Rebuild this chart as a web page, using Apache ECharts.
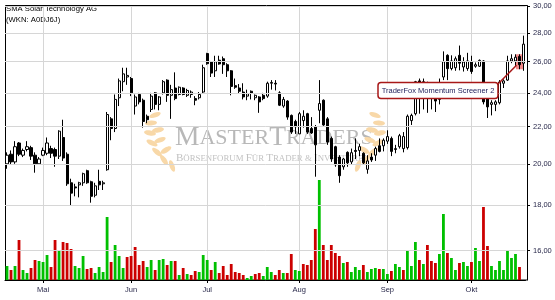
<!DOCTYPE html>
<html><head><meta charset="utf-8">
<script src="https://cdn.jsdelivr.net/npm/echarts@6/dist/echarts.min.js"></script>
<style>html,body{margin:0;padding:0;background:#fff}#c{width:555px;height:300px}</style>
</head><body><div id="c"></div>
<script>
// trading days 2019 (Apr 16 - Oct 18), in calendar order
const tradingDays = [
  ['04', [16,17,18,23,24,25,26,29,30]],
  ['05', [2,3,6,7,8,9,10,13,14,15,16,17,20,21,22,23,24,27,28,29,30,31]],
  ['06', [3,4,5,6,7,11,12,13,14,17,18,19,20,21,24,25,26,27,28]],
  ['07', [1,2,3,4,5,8,9,10,11,12,15,16,17,18,19,22,23,24,25,26,29,30,31]],
  ['08', [1,2,5,6,7,8,9,12,13,14,15,16,19,20,21,22,23,26,27,28,29,30]],
  ['09', [2,3,4,5,6,9,10,11,12,13,16,17,18,19,20,23,24,25,26,27,30]],
  ['10', [1,2,3,4,7,8,9,10,11,14,15,16,17,18]]
];
const monthNames = {'05':'Mai','06':'Jun','07':'Jul','08':'Aug','09':'Sep','10':'Okt'};
const yTicks = [16,18,20,22,24,26,28,30];

const opens = [
20.0,20.5,20.1,21.1,20.45,20.75,20.85,20.45,20.0,20.45,
20.55,20.8,20.75,20.4,21.4,20.5,19.05,18.85,18.95,19.05,
19.65,19.1,18.45,19.12,19.0,19.7,22.45,21.9,23.7,24.7,
25.0,24.9,23.2,23.9,23.55,22.6,23.0,24.0,23.3,24.0,
24.8,23.85,24.3,23.9,24.3,23.85,23.9,23.65,23.7,24.05,
26.55,26.0,25.4,26.1,26.2,25.8,25.4,24.45,24.3,24.05,
23.8,24.1,23.7,23.75,23.85,23.8,24.6,24.6,24.0,23.2,
23.5,22.65,22.3,21.6,22.35,22.75,21.9,22.0,22.95,23.55,
22.45,21.35,20.9,20.35,19.85,20.6,20.1,20.7,20.7,20.55,
19.72,20.35,20.45,20.95,20.95,21.2,21.35,20.75,20.9,20.8,
20.85,22.35,22.75,24.75,24.5,24.6,23.9,23.8,23.6,25.0,
26.43,25.55,25.6,26.43,25.65,25.55,25.98,25.7,25.7,26.05,
23.75,23.3,23.3,23.4,24.6,24.8,26.05,26.05,26.35,25.9];
const closes = [
20.45,20.1,20.9,20.5,20.7,20.9,20.4,20.0,20.25,20.7,
21.1,20.55,20.4,21.75,20.3,19.0,18.55,18.8,19.05,19.5,
19.05,18.4,18.9,18.95,19.05,22.7,21.9,23.6,24.75,25.2,
25.1,24.0,23.75,23.45,22.3,22.4,23.8,23.3,23.75,24.7,
23.85,24.2,23.65,24.35,23.9,24.15,24.05,23.55,23.9,25.6,
25.87,25.25,26.0,25.85,25.8,25.4,24.4,24.35,24.1,23.75,
23.95,23.98,23.85,23.45,23.65,24.6,24.65,24.55,23.25,23.6,
22.55,21.7,22.0,22.75,22.6,21.7,21.65,21.0,23.35,22.1,
21.15,20.25,19.95,19.4,20.25,20.05,20.58,20.65,20.9,20.05,
20.15,20.2,20.8,20.65,21.25,21.45,20.65,20.8,21.5,21.45,
22.6,22.65,24.7,24.6,24.7,24.0,23.7,23.5,24.4,26.0,
25.54,26.05,26.2,25.9,25.98,26.05,25.35,25.8,26.09,23.45,
23.15,23.4,23.45,24.68,24.75,26.05,26.2,26.3,25.8,27.2];
const lows = [
19.75,19.95,20.0,20.4,20.35,20.65,20.2,19.55,19.95,20.4,
20.45,20.3,19.85,20.25,20.15,18.9,17.95,18.4,18.35,18.9,
19.0,18.1,18.35,18.7,18.7,19.65,21.25,21.7,23.2,24.1,
24.5,23.8,22.7,23.3,21.95,22.2,22.85,23.0,22.95,23.9,
23.45,22.45,23.55,23.85,23.85,23.75,23.7,23.25,23.6,23.95,
25.8,25.0,25.0,25.8,25.2,25.0,23.85,24.25,23.95,23.6,
23.55,23.6,23.55,22.8,23.55,23.7,24.2,24.15,23.2,23.1,
22.4,21.6,21.6,21.6,21.95,21.6,21.6,19.35,22.2,22.05,
21.0,20.1,19.85,19.05,19.7,19.85,19.95,20.25,20.4,19.95,
19.5,20.1,20.15,20.6,20.65,21.05,20.4,20.55,20.8,20.6,
20.75,22.1,22.65,22.75,23.0,22.8,23.0,22.85,23.3,24.8,
24.8,25.43,25.4,25.43,25.35,25.4,25.2,25.6,25.65,23.3,
22.5,22.65,22.9,23.3,24.3,24.75,25.9,25.7,25.5,25.4];
const highs = [
20.6,20.7,21.2,21.15,20.8,21.2,20.95,20.6,20.35,20.85,
21.4,20.95,20.85,21.8,22.4,20.6,19.25,19.0,19.1,19.55,
19.7,19.15,19.05,19.7,19.15,22.85,22.55,23.9,24.9,25.6,
25.6,25.0,23.9,24.0,23.65,22.7,24.0,24.05,23.8,24.8,
24.85,24.5,25.3,24.4,24.35,24.25,24.15,23.8,24.05,25.8,
26.6,26.05,26.4,26.4,26.35,25.9,25.45,24.9,24.55,24.6,
24.2,24.15,23.9,23.8,24.0,24.7,24.8,24.8,24.1,23.75,
23.55,22.7,22.4,22.85,22.95,22.8,22.55,22.1,24.8,23.6,
22.55,21.45,20.95,20.45,20.3,20.65,20.8,21.35,21.05,20.6,
20.45,20.55,20.9,21.35,21.35,21.8,21.45,21.0,21.6,21.7,
22.7,22.75,24.75,24.9,24.9,24.7,24.1,24.3,24.9,26.7,
26.5,26.43,26.35,27.1,26.3,26.6,26.4,25.95,26.15,26.1,
23.85,23.55,23.55,24.8,24.85,26.4,26.5,26.5,26.5,27.8];
const volumes = [
14,10,14,40,10,7,12,20,19,18,
25,13,40,30,38,37,31,14,12,24,
11,12,7,13,8,63,18,35,24,12,
23,24,33,15,19,13,20,10,20,21,
15,19,19,5,12,6,5,9,8,25,
20,10,18,7,14,5,16,8,7,5,
2,4,6,7,4,13,8,5,10,7,
7,26,10,9,16,15,20,51,100,35,
20,35,27,24,17,18,8,13,10,15,
8,11,12,11,11,6,9,16,13,10,
30,14,38,20,16,35,19,17,26,66,
27,22,10,17,18,14,18,32,19,73,
34,14,10,19,10,29,22,26,13,null];
const highlightIndex = 128;
const annotationText = 'TraderFox Momentum Screener 2';

const dates = [];
tradingDays.forEach(([m, days]) => days.forEach(d => dates.push('2019-' + m + '-' + String(d).padStart(2,'0'))));
const monthStartIdx = [];
dates.forEach((d,i) => { if (i > 0 && d.slice(5,7) !== dates[i-1].slice(5,7)) monthStartIdx.push(i); });
const monthStartDates = new Set(monthStartIdx.map(i => dates[i]));

const FONT = "'Liberation Sans', Arial, sans-serif";
const SERIF = "'Liberation Serif', 'DejaVu Serif', serif";
const GRID = {left: 5, right: 29.5, top: 6, bottom: 20};

const chart = echarts.init(document.getElementById('c'), null, {renderer: 'canvas'});
const option = {
  animation: false,
  grid: [Object.assign({}, GRID), Object.assign({}, GRID)],
  xAxis: [{
    type: 'category', data: dates, gridIndex: 0, boundaryGap: true,
    axisLine: {show: true, lineStyle: {color: '#000', width: 1}},
    axisTick: {show: false},
    axisLabel: {show: true, interval: 0, hideOverlap: false,
      formatter: (v) => monthStartDates.has(v) ? monthNames[v.slice(5,7)] : '',
      fontSize: 7.5, fontFamily: FONT, color: '#28284a', margin: 6},
    splitLine: {show: false}
  }, {
    type: 'category', data: dates, gridIndex: 1, boundaryGap: true, show: false
  }],
  yAxis: [{
    type: 'log', gridIndex: 0, position: 'right', min: 14.84, max: 30, offset: 1.5,
    axisLine: {show: true, lineStyle: {color: '#000', width: 1}},
    axisTick: {show: true, customValues: yTicks, length: 3, lineStyle: {color: '#000'}},
    axisLabel: {show: true, customValues: yTicks, formatter: (v) => Number(v).toFixed(2).replace('.', ','),
      fontSize: 7.5, fontFamily: FONT, color: '#28284a', margin: 6},
    splitLine: {show: false}
  }, {
    type: 'value', gridIndex: 1, min: 0, max: 274, show: false
  }],
  series: [{
    type: 'line', xAxisIndex: 0, yAxisIndex: 0, data: [], z: 1, silent: true,
    markLine: {
      symbol: 'none', silent: true, animation: false,
      lineStyle: {color: '#d6d6d6', width: 1, type: 'solid'},
      label: {show: false},
      data: yTicks.map(v => ({yAxis: v}))
    }
  }, {
    type: 'bar', xAxisIndex: 1, yAxisIndex: 1, data: volumes, barWidth: 2.8, z: 2,
    itemStyle: {color: (p) => (p.dataIndex === 0 || closes[p.dataIndex] >= closes[p.dataIndex - 1]) ? '#00c000' : '#cc0000'}
  }, {
    type: 'candlestick', xAxisIndex: 0, yAxisIndex: 0, z: 4, barWidth: 2.6,
    data: dates.map((d, i) => [opens[i], closes[i], lows[i], highs[i]]),
    itemStyle: {color: '#ffffff', color0: '#000000', borderColor: '#000000', borderColor0: '#000000', borderWidth: 1}
  }]
};
chart.setOption(option);

// overlay elements positioned via the chart's own scales
const px = (i) => chart.convertToPixel({xAxisIndex: 0}, dates[i]);
const py = (v) => chart.convertToPixel({yAxisIndex: 0}, v);
const hx = px(highlightIndex);
const hyTop = py(highs[highlightIndex]);
const hyBot = py(lows[highlightIndex]);
const yTop = py(30), yBot = py(14.84);

const leaves = [
  [172,166,-70],[164,160,-55],[157,152,-40],[152,143,-25],[150,133,-10],[151,123,5],[155,115,20],
  [166,150,30],[160,140,20],[158,130,10],
  [358,166,70],[366,160,55],[373,152,40],[378,143,25],[380,133,10],[379,123,-5],[375,115,-20],
  [364,150,-30],[370,140,-20],[372,130,-10]
];
const monthLines = [];
monthStartIdx.forEach(i => {
  const x = Math.round(px(i)) + 0.5;
  monthLines.push({type: 'line', z: 1, silent: true, shape: {x1: x, y1: yTop, x2: x, y2: yBot}, style: {stroke: '#d6d6d6', lineWidth: 1}});
  monthLines.push({type: 'line', z: 5, silent: true, shape: {x1: x, y1: yBot, x2: x, y2: yBot + 3}, style: {stroke: '#000', lineWidth: 1}});
});
const graphic = [
  {type: 'rect', z: 0, silent: true, shape: {x: 5.5, y: 5.5, width: 522, height: 274.5}, style: {fill: 'none', stroke: '#000', lineWidth: 1}},
  {type: 'text', z: 0, silent: true, x: 6, y: 3, style: {text: 'SMA Solar Technology AG\n(WKN: A0DJ6J)', font: '7.7px ' + FONT, fill: '#000', lineHeight: 11}},
  {type: 'text', z: 0, silent: true, x: 175, y: 124, style: {
    text: '{a|M}{b|ASTER}{a|T}{b|RADERS}', fill: '#b8b8b8',
    rich: {a: {fontSize: 27.5, fontFamily: SERIF, fill: '#b8b8b8', letterSpacing: 1.5}, b: {fontSize: 22, fontFamily: SERIF, fill: '#b8b8b8', letterSpacing: 1.5}}}},
  {type: 'text', z: 0, silent: true, x: 176, y: 153, style: {
    text: '{a|B}{b|ÖRSENFORUM }{a|F}{b|ÜR }{a|T}{b|RADER & }{a|I}{b|NVESTOREN}', fill: '#c2c2c2',
    rich: {a: {fontSize: 11, fontFamily: SERIF, fill: '#c2c2c2', letterSpacing: 1.3}, b: {fontSize: 8.8, fontFamily: SERIF, fill: '#c2c2c2', letterSpacing: 1.3}}}}
].concat(monthLines)
.concat(leaves.map(l => ({type: 'ellipse', z: 0, silent: true, x: l[0], y: l[1], rotation: l[2] * Math.PI / 180,
    shape: {cx: 0, cy: 0, rx: 6, ry: 2.5}, style: {fill: '#f8d8a8'}})))
.concat([
  {type: 'rect', z: 3, silent: true, shape: {x: hx - 3.5, y: hyTop, width: 7.5, height: hyBot - hyTop}, style: {fill: '#f28a8a'}},
  {type: 'line', z: 10, silent: true, shape: {x1: 498, y1: 84, x2: hx - 3, y2: hyBot - 4}, style: {stroke: '#a81818', lineWidth: 1.5}},
  {type: 'rect', z: 10, silent: true, shape: {x: 378, y: 82.5, width: 120, height: 16, r: 3}, style: {fill: '#fff', stroke: '#a81818', lineWidth: 1.5}},
  {type: 'text', z: 11, silent: true, x: 438, y: 90.5, style: {text: annotationText, font: '7.5px ' + FONT, fill: '#1e1e5a', align: 'center', verticalAlign: 'middle'}}
]);
chart.setOption({graphic: graphic});
</script>
</body></html>
